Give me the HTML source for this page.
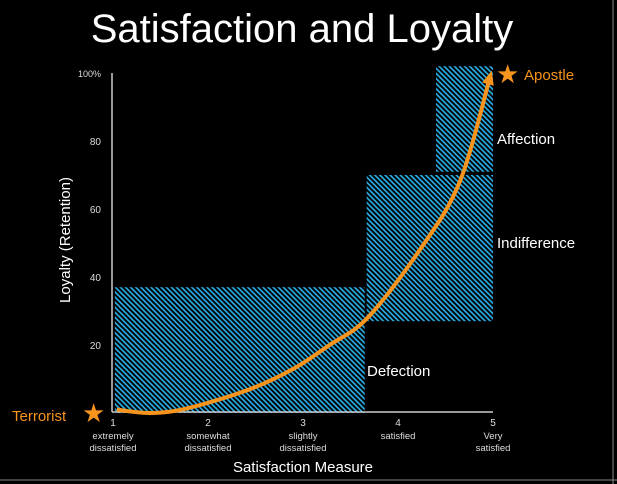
<!DOCTYPE html>
<html><head><meta charset="utf-8"><style>
html,body{margin:0;padding:0;background:#000;}
svg{display:block;font-family:"Liberation Sans",sans-serif;}
</style></head><body>
<svg id="c" width="617" height="484" viewBox="0 0 617 484">
<defs>
<pattern id="hatch" patternUnits="userSpaceOnUse" width="3.6" height="6" patternTransform="rotate(-45)">
<rect width="3.6" height="6" fill="#000"/>
<rect width="1.7" height="6" fill="#29abe2"/>
</pattern>
</defs>
<rect x="0" y="0" width="617" height="484" fill="#000"/>
<line x1="613" y1="0" x2="613" y2="484" stroke="#888" stroke-width="1"/>
<line x1="0" y1="480" x2="617" y2="480" stroke="#888" stroke-width="1"/>
<text x="302" y="42" font-size="40" fill="#fff" text-anchor="middle">Satisfaction and Loyalty</text>
<g id="boxes"></g>
<g id="axes"></g>
<g id="curve"></g>
<text x="70" y="240" font-size="15" fill="#fff" text-anchor="middle" transform="rotate(-90 70 240)">Loyalty (Retention)</text>
<text x="303" y="472" font-size="15" fill="#fff" text-anchor="middle">Satisfaction Measure</text>
<text x="497" y="144" font-size="15" fill="#fff">Affection</text>
<text x="497" y="248" font-size="15" fill="#fff">Indifference</text>
<text x="367" y="376" font-size="15" fill="#fff">Defection</text>
<text x="496" y="83" font-size="26" fill="#f7941d">★</text>
<text x="524" y="80" font-size="15" fill="#f7941d">Apostle</text>
<text x="12" y="421" font-size="15" fill="#f7941d">Terrorist</text>
<text x="82" y="422" font-size="26" fill="#f7941d">★</text>
</svg>
<script>
const xTicks=[1,2,3,4,5];
const xTickLabels=[["extremely","dissatisfied"],["somewhat","dissatisfied"],["slightly","dissatisfied"],["satisfied"],["Very","satisfied"]];
const yTicks=[20,40,60,80,100];
const yTickLabels=["20","40","60","80","100%"];
const zoneNames=["defection","indifference","affection"];
const zoneX0=[1.02,3.67,4.4];
const zoneX1=[3.65,5,5];
const zoneY0=[0,27,70.5];
const zoneY1=[37,70,102];
const curveX=[1.04,1.4,1.8,2.44,2.9,3.28,3.68,4.23,4.65,4.97];
const curveY=[1,0,1.5,7,13,20,28,48,68,99];

const NS="http://www.w3.org/2000/svg";
const sx=v=>113+(v-1)*95;
const sy=v=>413-v*3.4;
function mk(tag,parent){const e=document.createElementNS(NS,tag);parent.appendChild(e);return e;}
const boxes=document.getElementById('boxes'),axes=document.getElementById('axes'),curve=document.getElementById('curve');

zoneNames.forEach((n,i)=>{
  const r=mk('rect',boxes);
  
  
  r.setAttribute('x',sx(zoneX0[i]));r.setAttribute('y',sy(zoneY1[i]));
  r.setAttribute('width',sx(zoneX1[i])-sx(zoneX0[i]));r.setAttribute('height',sy(zoneY0[i])-sy(zoneY1[i])-(i==2?1.5:0));
  r.setAttribute('fill','url(#hatch)');
});

let a=mk('line',axes);


a.setAttribute('x1',112);a.setAttribute('x2',112);a.setAttribute('y1',sy(100));a.setAttribute('y2',412);a.setAttribute('stroke','#ccc');a.setAttribute('stroke-width',1.5);
a=mk('line',axes);


a.setAttribute('x1',112);a.setAttribute('x2',sx(5));a.setAttribute('y1',412);a.setAttribute('y2',412);a.setAttribute('stroke','#ccc');a.setAttribute('stroke-width',1.5);

yTicks.forEach((v,i)=>{
  const t=mk('text',axes);
  
  
  t.setAttribute('x',101);t.setAttribute('y',sy(v)+4);t.setAttribute('text-anchor','end');
  t.setAttribute('font-size',v==100?9:10);t.setAttribute('fill','#ddd');t.textContent=yTickLabels[i];
});
xTicks.forEach((v,i)=>{
  const t=mk('text',axes);
  
  
  t.setAttribute('x',sx(v));t.setAttribute('y',426);t.setAttribute('text-anchor','middle');
  t.setAttribute('font-size',10);t.setAttribute('fill','#ddd');t.textContent=String(v);
  xTickLabels[i].forEach((s,j)=>{
    const u=mk('text',axes);
    
    
    u.setAttribute('x',sx(v));u.setAttribute('y',439+j*12);u.setAttribute('text-anchor','middle');
    u.setAttribute('font-size',9.5);u.setAttribute('fill','#ddd');u.textContent=s;
  });
});

const P=curveX.map((x,i)=>[sx(x),sy(curveY[i])]);
let d='M'+P[0][0]+','+P[0][1];
for(let i=0;i<P.length-1;i++){
  const p0=P[Math.max(0,i-1)],p1=P[i],p2=P[i+1],p3=P[Math.min(P.length-1,i+2)];
  const c1=[p1[0]+(p2[0]-p0[0])/6,p1[1]+(p2[1]-p0[1])/6];
  const c2=[p2[0]-(p3[0]-p1[0])/6,p2[1]-(p3[1]-p1[1])/6];
  d+=' C'+c1+' '+c2+' '+p2;
}
const path=mk('path',curve);


path.setAttribute('d',d);path.setAttribute('fill','none');path.setAttribute('stroke','#f7941d');path.setAttribute('stroke-width',4);
const L=P.length-1,tip=P[L],prev=P[L-1];
const ang=Math.atan2(tip[1]-prev[1],tip[0]-prev[0]);
const hx=tip[0]+Math.cos(ang)*6,hy=tip[1]+Math.sin(ang)*6;
const pa=[[hx,hy],[hx-Math.cos(ang)*14+Math.sin(ang)*6,hy-Math.sin(ang)*14-Math.cos(ang)*6],[hx-Math.cos(ang)*14-Math.sin(ang)*6,hy-Math.sin(ang)*14+Math.cos(ang)*6]];
const head=mk('polygon',curve);


head.setAttribute('points',pa.map(p=>p.join(',')).join(' '));head.setAttribute('fill','#f7941d');
</script>
</body></html>
